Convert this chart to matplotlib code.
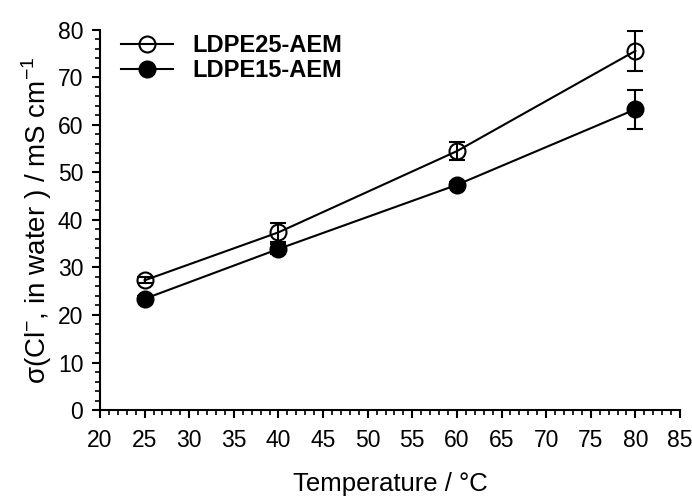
import matplotlib
matplotlib.use("Agg")
import matplotlib.pyplot as plt
from matplotlib.ticker import MultipleLocator

plt.rcParams["font.family"] = ["Liberation Sans", "DejaVu Sans"]
plt.rcParams["mathtext.fontset"] = "custom"
plt.rcParams["mathtext.rm"] = "Liberation Sans"

temperature = [25, 40, 60, 80]

ldpe25 = [27.3, 37.4, 54.5, 75.6]
ldpe25_err = [0.6, 2.0, 1.9, 4.2]

ldpe15 = [23.4, 33.9, 47.4, 63.3]
ldpe15_err = [0.5, 1.0, 0.6, 4.1]

fig = plt.figure(figsize=(6.92, 4.98), dpi=100)
ax = fig.add_axes([0.1445, 0.1767, 0.8382, 0.7631])

# error bars drawn on their own so the legend shows only line + marker
err_style = dict(fmt="none", ecolor="black", elinewidth=1.5,
                 capsize=6, capthick=1.5)
ax.errorbar(temperature, ldpe25, yerr=ldpe25_err, **err_style)
ax.errorbar(temperature, ldpe15, yerr=ldpe15_err, **err_style)

ax.plot(temperature, ldpe25, color="black", lw=1.5, marker="o",
        markersize=11.5, markerfacecolor="none", markeredgewidth=1.5,
        label="LDPE25-AEM")
ax.plot(temperature, ldpe15, color="black", lw=1.5, marker="o",
        markersize=11.5, markerfacecolor="black", markeredgewidth=1.5,
        label="LDPE15-AEM")

ax.set_xlim(20, 85)
ax.set_ylim(0, 80)
ax.xaxis.set_major_locator(MultipleLocator(5))
ax.xaxis.set_minor_locator(MultipleLocator(1))
ax.yaxis.set_major_locator(MultipleLocator(10))
ax.yaxis.set_minor_locator(MultipleLocator(2))

for side in ["top", "right"]:
    ax.spines[side].set_visible(False)
for side in ["left", "bottom"]:
    ax.spines[side].set_linewidth(1.5)

ax.tick_params(which="major", direction="out", length=6, width=1.5,
               labelsize=16.5)
ax.tick_params(which="minor", direction="out", length=3.5, width=1.2)
ax.tick_params(axis="x", which="major", pad=8)
ax.tick_params(axis="y", which="major", pad=6)

ax.set_xlabel("Temperature / °C", fontsize=18.5, labelpad=14)
ax.set_ylabel(r"σ(Cl$^{-}$, in water ) / mS cm$^{-1}$", fontsize=20,
              labelpad=3)

ax.legend(loc="upper left", bbox_to_anchor=(0.0, 1.045), frameon=False,
          prop={"weight": "bold", "size": 17}, handlelength=2.2,
          handletextpad=0.8, labelspacing=0.1)

fig.savefig("out.png", dpi=100)
